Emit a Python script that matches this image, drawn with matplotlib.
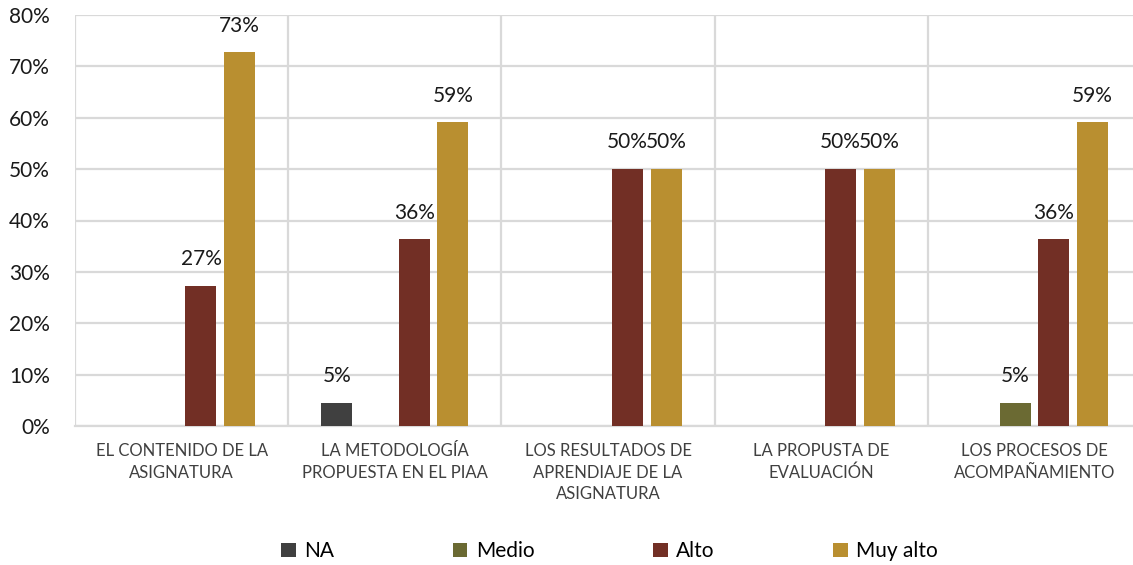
import numpy as np
import matplotlib.pyplot as plt
from matplotlib.ticker import FuncFormatter, MultipleLocator

plt.rcParams['font.family'] = ['Lato', 'DejaVu Sans']

# chart data (percent)
categories = [
    "EL CONTENIDO DE LA\nASIGNATURA",
    "LA METODOLOGÍA\nPROPUESTA EN EL PIAA",
    "LOS RESULTADOS DE\nAPRENDIAJE DE LA\nASIGNATURA",
    "LA PROPUSTA DE\nEVALUACIÓN",
    "LOS PROCESOS DE\nACOMPAÑAMIENTO",
]
series_names = ["NA", "Medio", "Alto", "Muy alto"]
na_vals = [0, 4.55, 0, 0, 0]
medio_vals = [0, 0, 0, 0, 4.55]
alto_vals = [27.27, 36.36, 50, 50, 36.36]
muy_alto_vals = [72.73, 59.09, 50, 50, 59.09]
colors = ["#404040", "#6B6A33", "#722F25", "#B98F30"]

all_series = [na_vals, medio_vals, alto_vals, muy_alto_vals]

fig = plt.figure(figsize=(11.33, 5.65), dpi=100)
ax = fig.add_axes([75 / 1133, 139 / 565, 1066 / 1133, 411 / 565])

x = np.arange(len(categories))
step = 0.1815
width = 0.1455
for i, (name, vals, col) in enumerate(zip(series_names, all_series, colors)):
    pos = x + (i - 1.5) * step
    bars = ax.bar(pos, vals, width, color=col, label=name, zorder=3)
    for b, v in zip(bars, vals):
        if v > 0:
            ax.annotate(f"{v:.0f}%", (b.get_x() + b.get_width() / 2, v),
                        xytext=(0, 12), textcoords="offset points",
                        ha="center", va="bottom", fontsize=15, color="#1a1a1a")

ax.set_xlim(-0.5, len(categories) - 0.5)
ax.set_ylim(0, 80)
ax.yaxis.set_major_locator(MultipleLocator(10))
ax.yaxis.set_major_formatter(FuncFormatter(lambda v, p: f"{v:.0f}%"))
ax.set_xticks(x)
ax.set_xticklabels(categories, fontsize=12, color="#404040", linespacing=1.45)
ax.set_xticks(np.arange(-0.5, len(categories)), minor=True)

grid_col = "#D9D9D9"
ax.grid(axis="y", which="major", color=grid_col, linewidth=1.6, zorder=0)
ax.grid(axis="x", which="minor", color=grid_col, linewidth=1.6, zorder=0)
ax.tick_params(axis="both", which="both", length=0)
ax.tick_params(axis="y", labelsize=15, labelcolor="#1a1a1a", pad=18)
ax.tick_params(axis="x", pad=12)
for s in ["top", "right", "left"]:
    ax.spines[s].set_visible(False)
ax.spines["bottom"].set_color(grid_col)
ax.spines["bottom"].set_linewidth(1.6)

fig.legend(loc="center", bbox_to_anchor=(0.538, 0.024), ncol=4, frameon=False,
           fontsize=15, handlelength=0.7, handleheight=0.7, handletextpad=0.4,
           columnspacing=5.7)

fig.savefig("out.png", dpi=100)
